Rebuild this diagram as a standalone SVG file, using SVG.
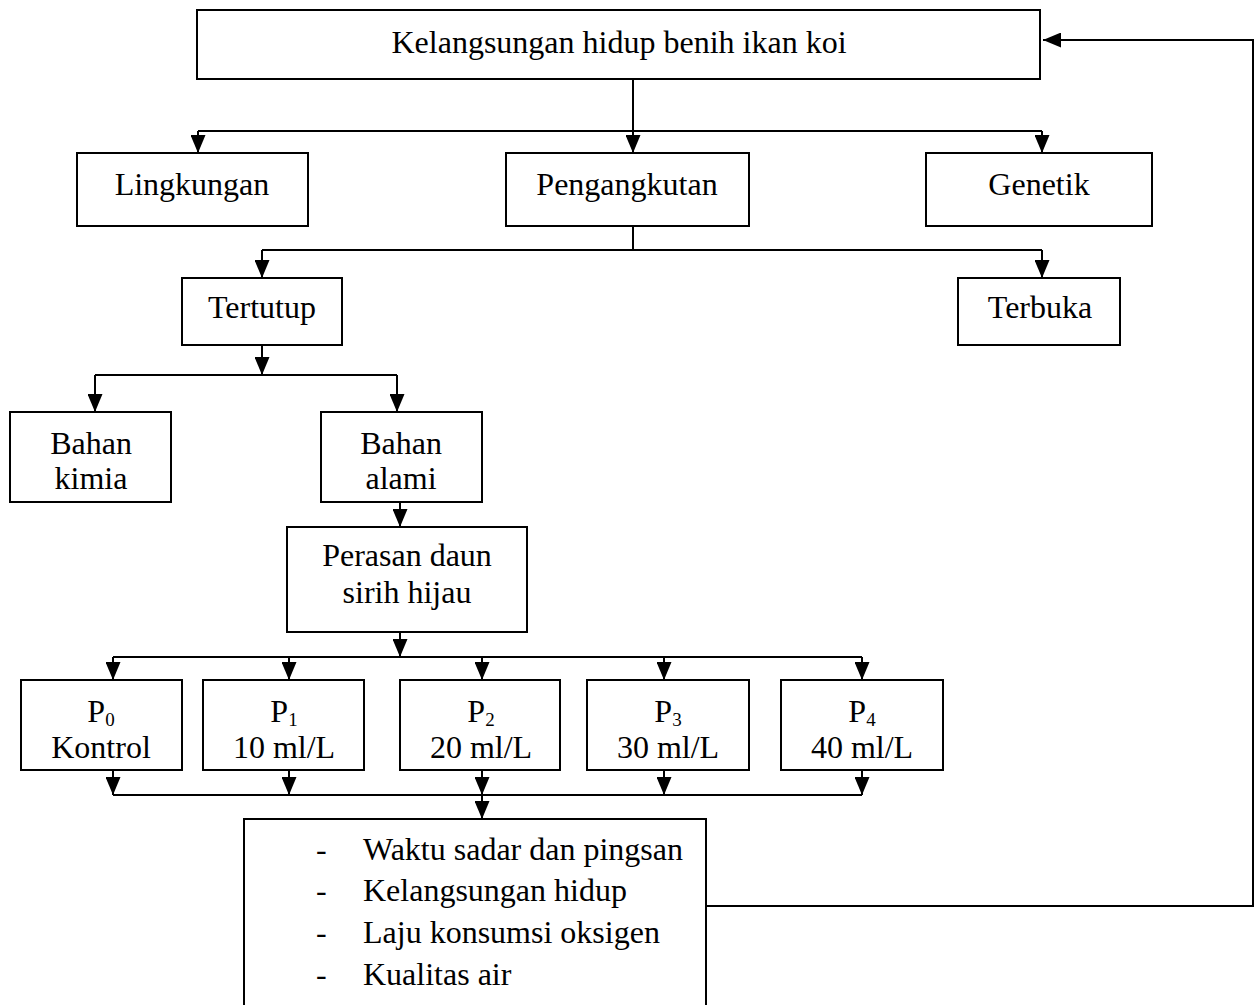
<svg xmlns="http://www.w3.org/2000/svg" width="1255" height="1005" viewBox="0 0 1255 1005">
<style>
.box{fill:#fff;stroke:#000;stroke-width:2}
.t{font-family:"Liberation Serif","Times New Roman",serif;font-size:32px;fill:#000;text-anchor:middle}
.l{font-family:"Liberation Serif","Times New Roman",serif;font-size:32px;fill:#000}
.s{font-size:19px}
.c{fill:none;stroke:#000;stroke-width:2}
.a{fill:none;stroke:#000;stroke-width:2;marker-end:url(#ah)}
</style>
<defs>
<marker id="ah" viewBox="0 0 18 15" refX="18" refY="7.5" markerWidth="18" markerHeight="15" markerUnits="userSpaceOnUse" orient="auto">
<path d="M0,0 L18,7.5 L0,15 z" fill="#000"/>
</marker>
</defs>
<rect width="1255" height="1005" fill="#fff"/>
<g id="connectors">
<path class="a" d="M633,79 V153"/>
<path class="c" d="M198,131 H1042"/>
<path class="a" d="M198,131 V153"/>
<path class="a" d="M1042,131 V153"/>
<path class="c" d="M633,226 V250 M262,250 H1042"/>
<path class="a" d="M262,250 V278"/>
<path class="a" d="M1042,250 V278"/>
<path class="a" d="M262,345 V375"/>
<path class="c" d="M95,375 H397"/>
<path class="a" d="M95,375 V412"/>
<path class="a" d="M397,375 V412"/>
<path class="a" d="M400,502 V527"/>
<path class="a" d="M400,632 V657"/>
<path class="c" d="M113,657 H862"/>
<path class="a" d="M113,657 V680"/>
<path class="a" d="M289,657 V680"/>
<path class="a" d="M482,657 V680"/>
<path class="a" d="M664,657 V680"/>
<path class="a" d="M862,657 V680"/>
<path class="a" d="M113,770 V795"/>
<path class="a" d="M289,770 V795"/>
<path class="a" d="M482,770 V795"/>
<path class="a" d="M664,770 V795"/>
<path class="a" d="M862,770 V795"/>
<path class="c" d="M113,795 H862"/>
<path class="a" d="M482,795 V819"/>
<path class="a" d="M706,906 H1253 V40 H1043"/>
</g>
<g id="n-title"><rect class="box" x="197" y="10" width="843" height="69"/><text class="t" x="619" y="53">Kelangsungan hidup benih ikan koi</text></g>
<g id="n-lingkungan"><rect class="box" x="77" y="153" width="231" height="73"/><text class="t" x="192" y="195">Lingkungan</text></g>
<g id="n-pengangkutan"><rect class="box" x="506" y="153" width="243" height="73"/><text class="t" x="627" y="195">Pengangkutan</text></g>
<g id="n-genetik"><rect class="box" x="926" y="153" width="226" height="73"/><text class="t" x="1039" y="195">Genetik</text></g>
<g id="n-tertutup"><rect class="box" x="182" y="278" width="160" height="67"/><text class="t" x="262" y="318">Tertutup</text></g>
<g id="n-terbuka"><rect class="box" x="958" y="278" width="162" height="67"/><text class="t" x="1040" y="318">Terbuka</text></g>
<g id="n-kimia"><rect class="box" x="10" y="412" width="161" height="90"/><text class="t" x="91" y="454">Bahan</text><text class="t" x="91" y="489">kimia</text></g>
<g id="n-alami"><rect class="box" x="321" y="412" width="161" height="90"/><text class="t" x="401" y="454">Bahan</text><text class="t" x="401" y="489">alami</text></g>
<g id="n-perasan"><rect class="box" x="287" y="527" width="240" height="105"/><text class="t" x="407" y="566">Perasan daun</text><text class="t" x="407" y="603">sirih hijau</text></g>
<g id="n-p0"><rect class="box" x="21" y="680" width="161" height="90"/><text class="t" x="101" y="722">P<tspan class="s" dy="4">0</tspan></text><text class="t" x="101" y="758">Kontrol</text></g>
<g id="n-p1"><rect class="box" x="203" y="680" width="161" height="90"/><text class="t" x="284" y="722">P<tspan class="s" dy="4">1</tspan></text><text class="t" x="284" y="758">10 ml/L</text></g>
<g id="n-p2"><rect class="box" x="400" y="680" width="160" height="90"/><text class="t" x="481" y="722">P<tspan class="s" dy="4">2</tspan></text><text class="t" x="481" y="758">20 ml/L</text></g>
<g id="n-p3"><rect class="box" x="587" y="680" width="162" height="90"/><text class="t" x="668" y="722">P<tspan class="s" dy="4">3</tspan></text><text class="t" x="668" y="758">30 ml/L</text></g>
<g id="n-p4"><rect class="box" x="781" y="680" width="162" height="90"/><text class="t" x="862" y="722">P<tspan class="s" dy="4">4</tspan></text><text class="t" x="862" y="758">40 ml/L</text></g>
<g id="n-result"><rect class="box" x="244" y="819" width="462" height="200"/>
<text class="l" x="316" y="860">-</text><text class="l" x="363" y="860">Waktu sadar dan pingsan</text>
<text class="l" x="316" y="901">-</text><text class="l" x="363" y="901">Kelangsungan hidup</text>
<text class="l" x="316" y="943">-</text><text class="l" x="363" y="943">Laju konsumsi oksigen</text>
<text class="l" x="316" y="985">-</text><text class="l" x="363" y="985">Kualitas air</text>
</g>
</svg>
